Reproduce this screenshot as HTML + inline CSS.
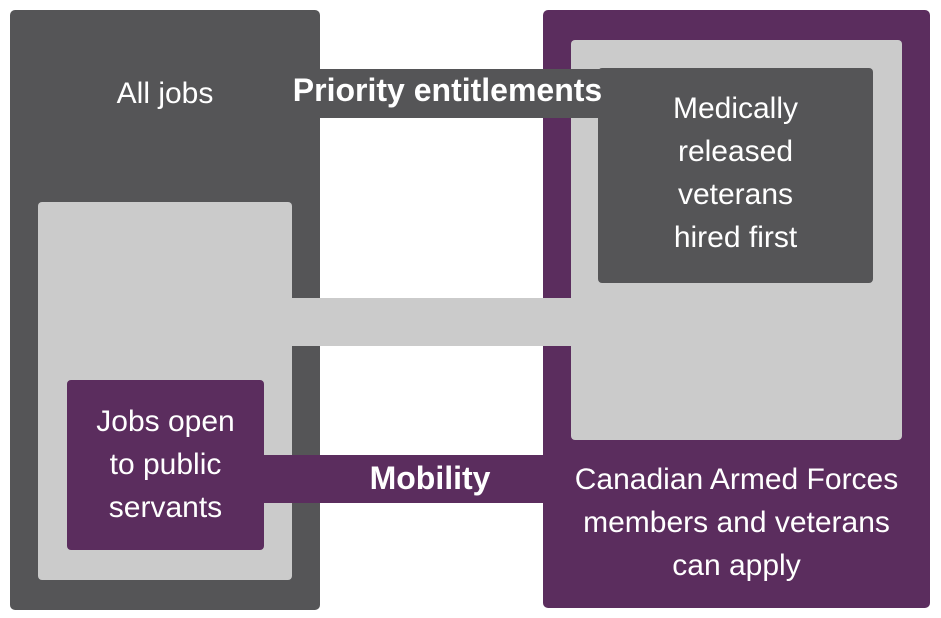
<!DOCTYPE html>
<html><head><style>
body{margin:0;width:941px;height:618px;background:#fff;position:relative;overflow:hidden;font-family:"Liberation Sans",sans-serif;}
div{position:absolute;box-sizing:border-box;}
.t{color:#fff;text-align:center;font-size:30px;line-height:43px;white-space:nowrap;}
</style></head><body>
<div style="left:10px;top:10px;width:310px;height:600px;background:#555557;border-radius:5px"></div>
<div style="left:543px;top:10px;width:387px;height:598px;background:#5b2d5e;border-radius:5px"></div>
<div style="left:571px;top:40px;width:331px;height:400px;background:#cbcbcb;border-radius:4px"></div>
<div style="left:598px;top:68px;width:275px;height:215px;background:#555557;border-radius:4px"></div>
<div style="left:38px;top:202px;width:254px;height:378px;background:#cbcbcb;border-radius:4px"></div>
<div style="left:67px;top:380px;width:197px;height:170px;background:#5b2d5e;border-radius:4px"></div>
<div style="left:318px;top:69px;width:282px;height:49px;background:#555557"></div>
<div style="left:290px;top:298px;width:283px;height:48px;background:#cbcbcb"></div>
<div style="left:262px;top:455px;width:283px;height:48px;background:#5b2d5e"></div>
<div class="t" style="left:60px;top:72px;width:210px">All jobs</div>
<div class="t" style="left:280px;top:69px;width:335px;font-weight:bold;font-size:32px">Priority entitlements</div>
<div class="t" style="left:598px;top:87px;width:275px">Medically<br>released<br>veterans<br>hired first</div>
<div class="t" style="left:67px;top:400px;width:197px">Jobs open<br>to public<br>servants</div>
<div class="t" style="left:330px;top:457px;width:200px;font-weight:bold;font-size:32px">Mobility</div>
<div class="t" style="left:543px;top:458px;width:387px">Canadian Armed Forces<br>members and veterans<br>can apply</div>
</body></html>
